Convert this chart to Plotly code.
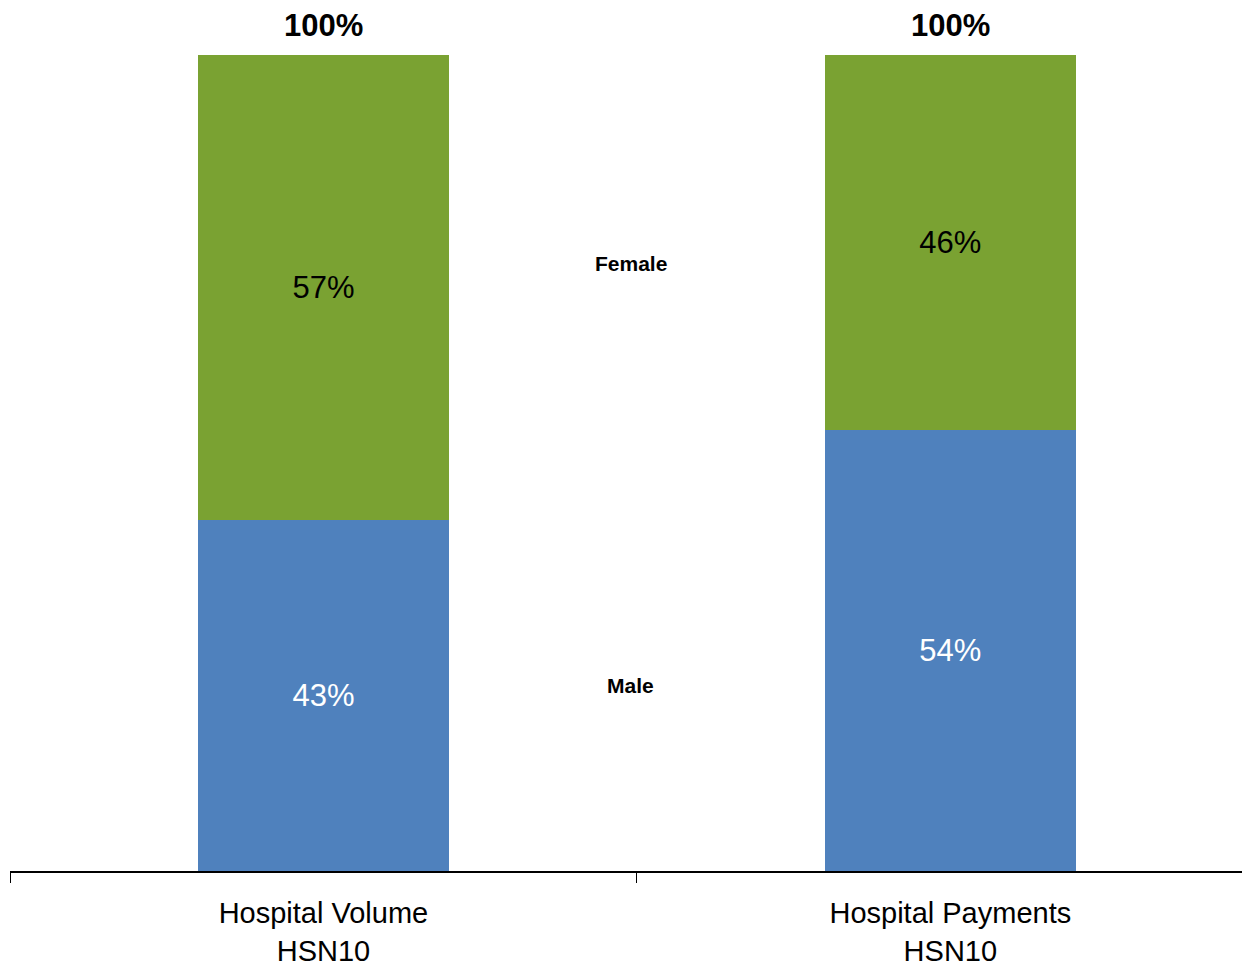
import plotly.graph_objects as go

categories = ["Hospital Volume<br>HSN10", "Hospital Payments<br>HSN10"]
male = [43, 54]
female = [57, 46]
totals = [100, 100]
series_labels = ["Female", "Male"]

BLUE = "#4F81BD"
GREEN = "#7AA232"
FONT = "Liberation Sans, Arial, sans-serif"

fig = go.Figure()
fig.add_trace(go.Bar(
    x=categories, y=male, name="Male",
    marker=dict(color=BLUE, line=dict(width=0)),
    text=[f"{v}%" for v in male], textposition="inside",
    insidetextanchor="middle",
    textfont=dict(color="white", size=31, family=FONT),
    width=0.4,
))
fig.add_trace(go.Bar(
    x=categories, y=female, name="Female",
    marker=dict(color=GREEN, line=dict(width=0)),
    text=[f"{v}%" for v in female], textposition="inside",
    insidetextanchor="middle",
    textfont=dict(color="black", size=31, family=FONT),
    width=0.4,
))

# totals above the bars
for cat, tot in zip(categories, totals):
    fig.add_annotation(x=cat, y=tot, text=f"<b>{tot}%</b>", showarrow=False,
                       yanchor="bottom", yshift=10,
                       font=dict(size=31, color="black", family=FONT))

# series labels between the bars
for label, ypos in zip(series_labels, [74.5, 22.7]):
    fig.add_annotation(x=0.49, y=ypos, xref="x", yref="y", text=f"<b>{label}</b>",
                       showarrow=False, font=dict(size=21, color="black", family=FONT))

fig.update_layout(
    barmode="stack",
    width=1242, height=959,
    margin=dict(l=2, r=0, t=47, b=96),
    paper_bgcolor="white", plot_bgcolor="white",
    showlegend=False,
    xaxis=dict(
        range=[-0.5, 1.478],
        automargin=False,
        showline=True, linecolor="black", linewidth=2,
        ticks="outside", tickson="boundaries", ticklen=10, tickcolor="black",
        tickwidth=1,
        tickfont=dict(size=29, color="black", family=FONT),
        ticklabelstandoff=15,
        showgrid=False, zeroline=False,
    ),
    yaxis=dict(range=[0, 100], visible=False, showgrid=False, zeroline=False),
    font=dict(family=FONT),
)

fig.write_html("out.html")
